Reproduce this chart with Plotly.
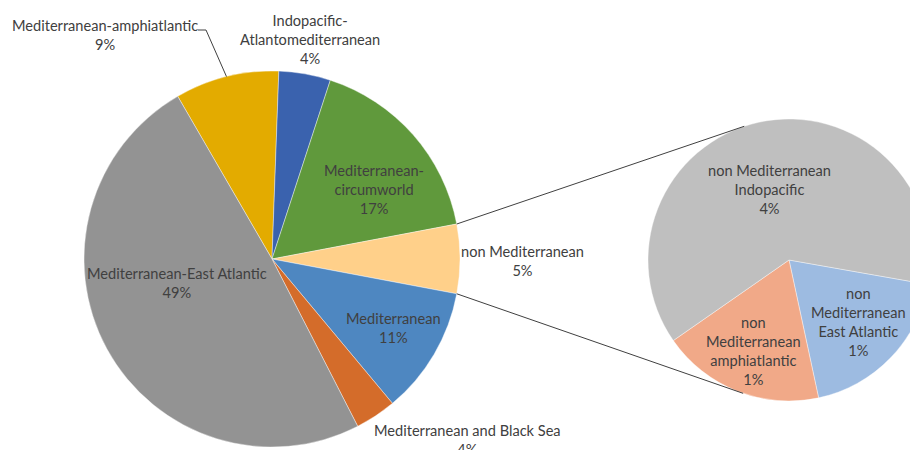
import math
import plotly.graph_objects as go

# figure is placed by the page with an 8px body margin; sizes below are screen pixels
OFF = 8
FW, FH = 940, 450

# ---- data ----
main_labels = ["Mediterranean-amphiatlantic", "Indopacific-Atlantomediterranean",
               "Mediterranean-circumworld", "non Mediterranean", "Mediterranean",
               "Mediterranean and Black Sea", "Mediterranean-East Atlantic"]
main_values = [8.94, 4.44, 17.0, 5.94, 10.97, 3.53, 49.17]
main_pct_text = ["9%", "4%", "17%", "5%", "11%", "4%", "49%"]
main_colors = ["#E3AB00", "#3A62AE", "#60993C", "#FFD08A", "#4E87C1", "#D46C2A", "#939393"]

sec_labels = ["non Mediterranean East Atlantic", "non Mediterranean amphiatlantic",
              "non Mediterranean Indopacific"]
sec_values = [1.12, 1.11, 3.71]
sec_pct_text = ["1%", "1%", "4%"]
sec_colors = ["#9DBBE1", "#F1A988", "#BFBFBF"]

# ---- geometry (screen pixels) ----
M_CX, M_CY, M_R = 272, 259, 188
S_CX, S_CY, S_R = 789, 260, 141
MAIN_ROT = -30.1      # start angle of first slice, clockwise from 12 o'clock
SEC_ROT = 100.0

def px(x):
    return (x - OFF) / FW

def py(y):
    return 1 - (y - OFF) / FH

fig = go.Figure()

fig.add_trace(go.Pie(
    labels=main_labels, values=main_values, sort=False, direction="clockwise",
    rotation=MAIN_ROT, marker=dict(colors=main_colors, line=dict(color="white", width=0.4)),
    textinfo="none", hoverinfo="label+value", showlegend=False,
    domain=dict(x=[px(M_CX - M_R), px(M_CX + M_R)], y=[py(M_CY + M_R), py(M_CY - M_R)]),
))

fig.add_trace(go.Pie(
    labels=sec_labels, values=sec_values, sort=False, direction="clockwise",
    rotation=SEC_ROT, marker=dict(colors=sec_colors, line=dict(color="white", width=0.4)),
    textinfo="none", hoverinfo="label+value", showlegend=False,
    domain=dict(x=[px(S_CX - S_R), px(S_CX + S_R)], y=[py(S_CY + S_R), py(S_CY - S_R)]),
))

# angles of slice edges in the main pie
total = sum(main_values)
edges = [MAIN_ROT]
for v in main_values:
    edges.append(edges[-1] + 360 * v / total)

def arc_pt(cx, cy, r, ang):
    a = math.radians(ang)
    return cx + r * math.sin(a), cy - r * math.cos(a)

# connector lines from "non Mediterranean" slice to secondary pie
i_nm = main_labels.index("non Mediterranean")
p_top = arc_pt(M_CX, M_CY, M_R, edges[i_nm])
p_bot = arc_pt(M_CX, M_CY, M_R, edges[i_nm + 1])
s_top = arc_pt(S_CX, S_CY, S_R, -18.5)
s_bot = arc_pt(S_CX, S_CY, S_R, 199.0)
shapes = []
for a, b in [(p_top, s_top), (p_bot, s_bot)]:
    shapes.append(dict(type="line", xref="paper", yref="paper",
                       x0=px(a[0]), y0=py(a[1]), x1=px(b[0]), y1=py(b[1]),
                       line=dict(color="#404040", width=1)))

# leader line for the amphiatlantic label
mid_amph = (edges[0] + edges[1]) / 2
pa = arc_pt(M_CX, M_CY, M_R, mid_amph)
shapes.append(dict(type="path", xref="paper", yref="paper",
                   path=f"M {px(198)},{py(30)} L {px(206)},{py(30)} L {px(pa[0])},{py(pa[1])}",
                   line=dict(color="#404040", width=1)))

FONT = dict(family="Lato, 'Open Sans', sans-serif", size=14.6, color="#404040")

main_label_text = ["Mediterranean-amphiatlantic", "Indopacific-<br>Atlantomediterranean",
                   "Mediterranean-<br>circumworld", "non Mediterranean", "Mediterranean",
                   "Mediterranean and Black Sea", "Mediterranean-East Atlantic"]
main_label_pos = [(105, 35), (310, 39), (374, 189), (522, 261), (393, 328), (467, 440), (177, 283)]

sec_label_text = ["non<br>Mediterranean<br>East Atlantic", "non<br>Mediterranean<br>amphiatlantic",
                  "non Mediterranean<br>Indopacific"]
sec_label_pos = [(858, 322), (753, 351), (769, 189)]

annotations = []
for t, p, (x, y) in zip(main_label_text, main_pct_text, main_label_pos):
    annotations.append(dict(text=f"{t}<br>{p}", x=px(x), y=py(y), xref="paper", yref="paper",
                            xanchor="center", yanchor="middle", showarrow=False, font=FONT))
for t, p, (x, y) in zip(sec_label_text, sec_pct_text, sec_label_pos):
    annotations.append(dict(text=f"{t}<br>{p}", x=px(x), y=py(y), xref="paper", yref="paper",
                            xanchor="center", yanchor="middle", showarrow=False, font=FONT))

fig.update_layout(
    width=FW, height=FH, margin=dict(l=0, r=0, t=0, b=0),
    paper_bgcolor="white", plot_bgcolor="white",
    shapes=shapes, annotations=annotations, showlegend=False,
)

fig.write_html("out.html", post_script="document.documentElement.style.overflow='hidden';document.body.style.overflow='hidden';")
